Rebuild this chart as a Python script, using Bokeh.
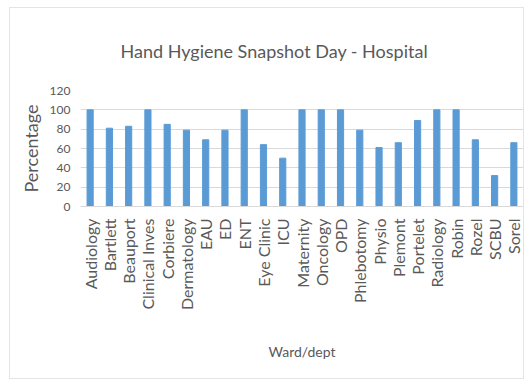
import math
from bokeh.plotting import figure
from bokeh.models import Range1d, FactorRange, FixedTicker
from bokeh.embed import file_html
from bokeh.resources import INLINE

# Hand hygiene compliance by ward / department
wards = ["Audiology", "Bartlett", "Beauport", "Clinical Inves", "Corbiere",
         "Dermatology", "EAU", "ED", "ENT", "Eye Clinic", "ICU", "Maternity",
         "Oncology", "OPD", "Phlebotomy", "Physio", "Plemont", "Portelet",
         "Radiology", "Robin", "Rozel", "SCBU", "Sorel"]
percentages = [100, 81, 83, 100, 85, 79, 69, 79, 100, 64, 50, 100,
               100, 100, 79, 61, 66, 89, 100, 100, 69, 32, 66]
y_ticks = [0, 20, 40, 60, 80, 100, 120]

FONT = "Lato"
TEXT = "#595959"
GRID = "#d9d9d9"

p = figure(width=515, height=372, output_backend="svg", toolbar_location=None,
           x_range=FactorRange(*wards, range_padding=0), y_range=Range1d(0, 120),
           min_border_left=70, min_border_right=2, min_border_top=82,
           min_border_bottom=174)
# chart-area frame drawn around the whole figure
p.margin = (7, 0, 0, 9)
p.styles = {"border": "1px solid #e4e4e4"}
p.outline_line_color = None
p.background_fill_color = "white"
p.border_fill_color = "white"

# chart title, centred on the whole chart area rather than the plot frame
p.title.text = "Hand Hygiene Snapshot Day - Hospital"
p.title.align = "left"
p.title.offset = 40
p.title.standoff = 57
p.title.text_font = FONT
p.title.text_font_size = "18px"
p.title.text_font_style = "normal"
p.title.text_color = TEXT

p.vbar(x=wards, top=percentages, width=0.32, color="#5b9bd5")

p.xgrid.grid_line_color = None
p.ygrid.grid_line_color = GRID
p.yaxis.ticker = FixedTicker(ticks=y_ticks)

for ax in (p.xaxis, p.yaxis):
    ax.major_tick_line_color = None
    ax.minor_tick_line_color = None
    ax.major_tick_out = 0
    ax.major_tick_in = 0
    ax.minor_tick_out = 0
    ax.minor_tick_in = 0
    ax.major_label_text_font = FONT
    ax.major_label_text_color = TEXT
    ax.axis_label_text_font = FONT
    ax.axis_label_text_color = TEXT
    ax.axis_label_text_font_style = "normal"

p.yaxis.axis_line_color = None
p.yaxis.major_label_text_font_size = "12px"
p.yaxis.major_label_standoff = 10
p.yaxis.axis_label = "Percentage"
p.yaxis.axis_label_text_font_size = "18px"
p.yaxis.axis_label_standoff = 5

p.xaxis.axis_line_color = GRID
p.xaxis.major_label_orientation = math.pi / 2
p.xaxis.major_label_text_font_size = "16px"
p.xaxis.major_label_standoff = 12
p.xaxis.axis_label = "Ward/dept"
p.xaxis.axis_label_text_font_size = "14px"
p.xaxis.axis_label_standoff = 30

open("out.html", "w").write(file_html(p, INLINE))
